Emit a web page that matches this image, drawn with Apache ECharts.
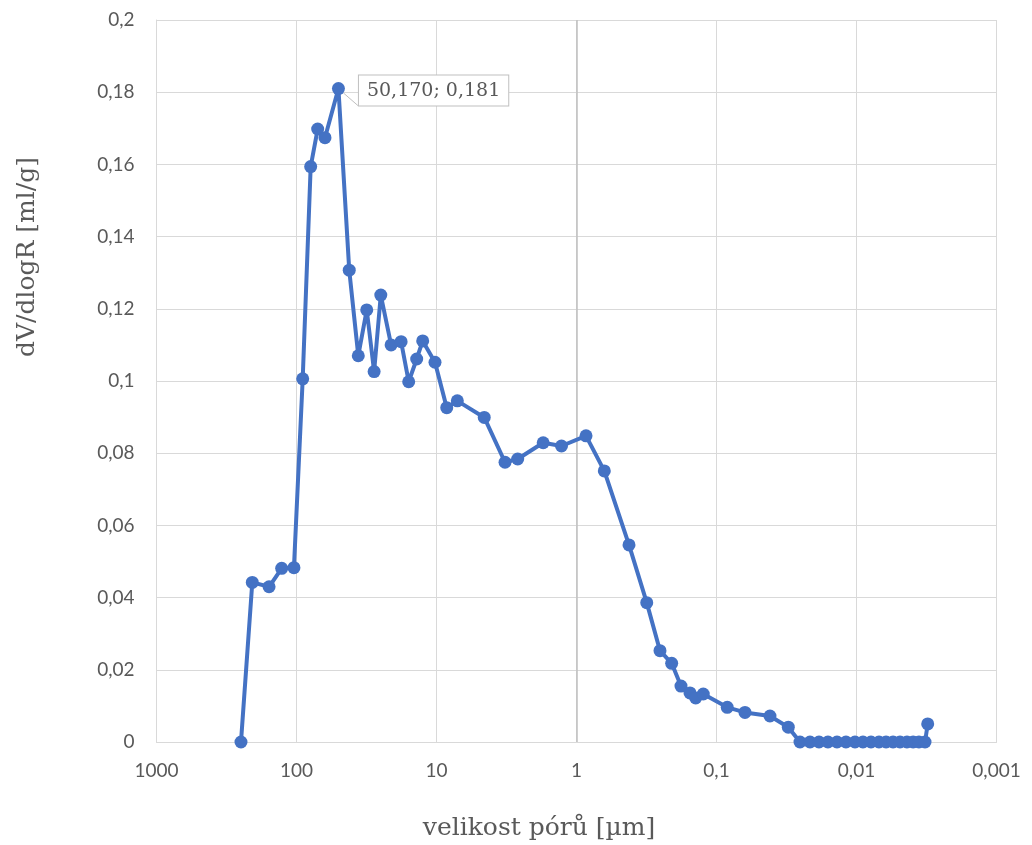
<!DOCTYPE html>
<html>
<head>
<meta charset="utf-8">
<script src="https://cdn.jsdelivr.net/npm/echarts@6/dist/echarts.min.js"></script>
<style>
  html, body { margin: 0; padding: 0; background: #ffffff; }
  #chart { width: 1032px; height: 845px; }
</style>
</head>
<body>
<div id="chart"></div>
<script>
// Pore size distribution (mercury intrusion): pore size in µm and dV/dlogR in ml/g
const poreSize = [
  249.2, 206.9, 157.0, 127.6, 104.3, 90.3, 79.2, 70.6, 62.6, 50.170,
  42.0, 36.2, 31.5, 27.9, 25.0, 21.1, 17.9, 15.8, 13.85, 12.55,
  10.25, 8.45, 7.10, 4.56, 3.24, 2.63, 1.73, 1.28, 0.855, 0.633,
  0.4217, 0.315, 0.2533, 0.209, 0.1793, 0.1546, 0.1408, 0.1243, 0.0838, 0.0626,
  0.0415, 0.0307, 0.02533, 0.02148, 0.01853, 0.0160, 0.01378, 0.01189, 0.01025, 0.00899,
  0.00788, 0.00691, 0.00615, 0.00548, 0.00489, 0.00436, 0.00394, 0.00358, 0.00324, 0.0031
];
const dVdlogR = [
  0.0000, 0.0442, 0.0430, 0.0481, 0.0483, 0.1006, 0.1594, 0.1698, 0.1674, 0.181,
  0.1307, 0.1070, 0.1197, 0.1026, 0.1238, 0.1100, 0.1109, 0.0998, 0.1061, 0.1111,
  0.1052, 0.0926, 0.0945, 0.0899, 0.0775, 0.0784, 0.0829, 0.0820, 0.0848, 0.0751,
  0.0546, 0.0386, 0.0253, 0.0218, 0.0155, 0.0136, 0.0122, 0.0133, 0.0096, 0.0082,
  0.0072, 0.0041, 0, 0, 0, 0, 0, 0, 0, 0,
  0, 0, 0, 0, 0, 0, 0, 0, 0, 0.0050
];
// Point that carries the value callout
const labelledIndex = 9;

const yTicks = { min: 0, max: 0.2, interval: 0.02 };
const xRange = { min: 0.001, max: 1000 };

const xAxisTitle = 'velikost pórů [µm]';
const yAxisTitle = 'dV/dlogR [ml/g]';

const titleFont = '"DejaVu Serif", serif';
const tickFont = 'Lato, "Open Sans", sans-serif';
const textGrey = '#595959';

const comma = v => String(v).replace('.', ',');

const seriesData = poreSize.map((x, i) => {
  const item = { value: [x, dVdlogR[i]] };
  if (i === labelledIndex) {
    item.label = {
      show: true,
      position: 'right',
      distance: 8,
      offset: [6, 2],
      formatter: p => comma(p.value[0].toFixed(3)) + '; ' + comma(p.value[1].toFixed(3)),
      fontFamily: titleFont,
      fontSize: 19,
      color: textGrey,
      backgroundColor: '#ffffff',
      borderColor: '#bfbfbf',
      borderWidth: 1,
      padding: [6, 8, 5, 8]
    };
    item.labelLine = { show: true, lineStyle: { color: '#bfbfbf', width: 1 } };
  }
  return item;
});

const chart = echarts.init(document.getElementById('chart'), null, { renderer: 'canvas' });

const titleStyle = {
  fontFamily: titleFont,
  fontSize: 25,
  fill: textGrey,
  align: 'center',
  verticalAlign: 'middle'
};

chart.setOption({
  animation: false,
  backgroundColor: '#ffffff',
  grid: { left: 156.5, right: 35.5, top: 20, bottom: 103, containLabel: false },
  graphic: [
    {
      // vertical axis title
      type: 'text',
      x: 27,
      y: 257,
      rotation: Math.PI / 2,
      style: Object.assign({ text: yAxisTitle }, titleStyle)
    },
    {
      // horizontal axis title
      type: 'text',
      x: 539,
      y: 828,
      style: Object.assign({ text: xAxisTitle }, titleStyle)
    }
  ],
  xAxis: {
    type: 'log',
    logBase: 10,
    inverse: true,
    min: xRange.min,
    max: xRange.max,
    axisLine: { show: true, onZero: false, lineStyle: { color: '#d9d9d9', width: 1 } },
    axisTick: { show: false },
    splitLine: { show: true, lineStyle: { color: '#d9d9d9', width: 1 } },
    minorTick: { show: false },
    axisLabel: {
      margin: 19,
      fontFamily: tickFont,
      fontSize: 19,
      color: textGrey,
      formatter: v => comma(Number(Number(v).toPrecision(6)))
    }
  },
  yAxis: {
    type: 'value',
    min: yTicks.min,
    max: yTicks.max,
    interval: yTicks.interval,
    axisLine: { show: true, lineStyle: { color: '#d9d9d9', width: 1 } },
    axisTick: { show: false },
    splitLine: { show: true, lineStyle: { color: '#d9d9d9', width: 1 } },
    axisLabel: {
      margin: 22,
      fontFamily: tickFont,
      fontSize: 19,
      color: textGrey,
      formatter: v => comma(Number(v.toFixed(2)))
    }
  },
  series: [{
    type: 'line',
    data: seriesData,
    symbol: 'circle',
    symbolSize: 13,
    showAllSymbol: true,
    lineStyle: { color: '#4472c4', width: 4 },
    itemStyle: { color: '#4472c4' },
    emphasis: { disabled: true },
    z: 3,
    markLine: {
      silent: true,
      symbol: 'none',
      label: { show: false },
      lineStyle: { color: '#bfbfbf', width: 1.5, type: 'solid' },
      data: [{ xAxis: 1 }],
      z: 1
    }
  }]
});
</script>
</body>
</html>
